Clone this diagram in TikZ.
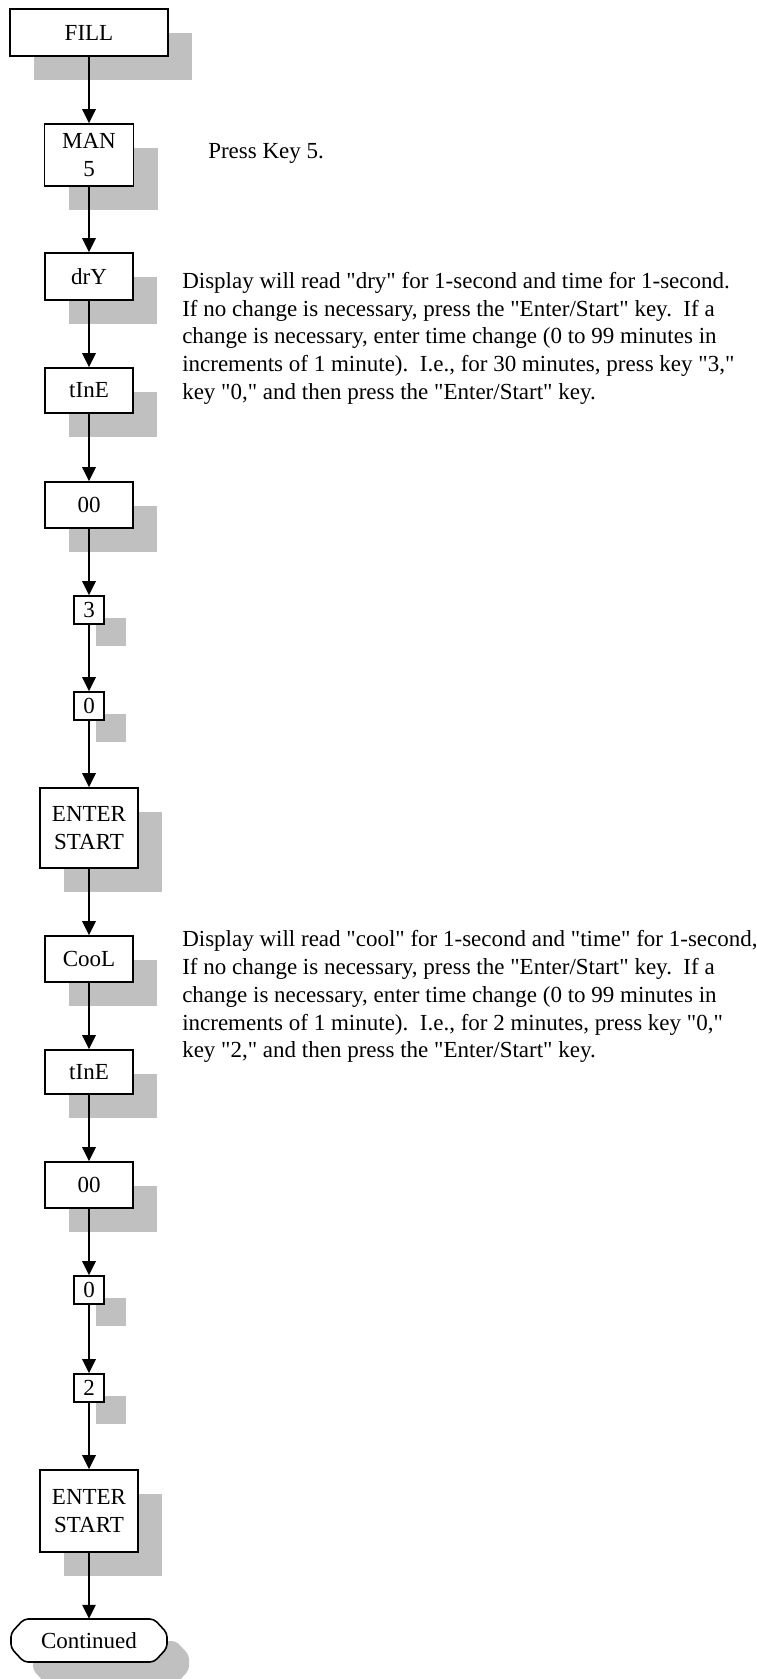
\documentclass[tikz,border=0pt]{standalone}
\usepackage{fontspec}
\setmainfont{Liberation Serif}[Ligatures=TeXOff]
\usetikzlibrary{arrows.meta,shadows}
\definecolor{shgray}{RGB}{192,192,192}
\begin{document}
\frenchspacing
\begin{tikzpicture}[x=0.75pt,y=-0.75pt,
  every node/.style={font=\fontsize{17.25pt}{20.8pt}\selectfont},
  wh/.style 2 args={minimum width=#1*0.75pt, minimum height=#2*0.75pt},
  flowbox/.style={draw, line width=1.2pt, fill=white, inner sep=0pt, align=center,
    font=\fontsize{17.25pt}{21pt}\selectfont},
  bigshadow/.style={drop shadow={shadow xshift=18pt, shadow yshift=-18pt,
    fill=shgray, opacity=1}},
  smallshadow/.style={drop shadow={shadow xshift=16.5pt, shadow yshift=-16.5pt,
    fill=shgray, opacity=1}},
  conn/.style={line width=1.4pt, -{Triangle[length=10.5pt,width=10pt]}},
  note/.style={anchor=base west, align=left, inner sep=0pt},
  termline/.style={line width=1.2pt, rounded corners=3pt},
]
\useasboundingbox (0,0) rectangle (757,1679);

% process boxes
\node[flowbox, bigshadow, wh={158}{47}] (fill) at (89,32.5) {FILL};
\node[flowbox, bigshadow, wh={89}{62}] (man) at (89,155) {MAN\\5};
\node[flowbox, bigshadow, wh={88}{47}] (dry) at (89,276.5) {drY};
\node[flowbox, bigshadow, wh={88}{45}] (timeA) at (89,390.5) {tInE};
\node[flowbox, bigshadow, wh={88}{46}] (zeroesA) at (89,505) {00};
\node[flowbox, smallshadow, wh={30}{28}] (keyThree) at (89,610) {3};
\node[flowbox, smallshadow, wh={30}{28}] (keyZeroA) at (89,706) {0};
\node[flowbox, bigshadow, wh={98}{80}] (enterA) at (89,828) {ENTER\\START};
\node[flowbox, bigshadow, wh={88}{46}] (cool) at (89,959) {CooL};
\node[flowbox, bigshadow, wh={88}{44}] (timeB) at (89,1072) {tInE};
\node[flowbox, bigshadow, wh={88}{46}] (zeroesB) at (89,1185) {00};
\node[flowbox, smallshadow, wh={30}{28}] (keyZeroB) at (89,1290) {0};
\node[flowbox, smallshadow, wh={30}{28}] (keyTwo) at (89,1388) {2};
\node[flowbox, bigshadow, wh={98}{82}] (enterB) at (89,1511) {ENTER\\START};

% terminator with its shadow
\fill[shgray, rounded corners=3pt]
  (46,1641) -- (176,1641) -- (189,1655) -- (189,1670) -- (176,1684)
  -- (46,1684) -- (33,1670) -- (33,1655) -- cycle;
\filldraw[termline, fill=white]
  (24,1619) -- (154,1619) -- (167,1633) -- (167,1648) -- (154,1662)
  -- (24,1662) -- (11,1648) -- (11,1633) -- cycle;
\node[inner sep=0pt, wh={156}{43}] (cont) at (89,1640.5) {Continued};

% connectors
\draw[conn] (fill.south) -- (man.north);
\draw[conn] (man.south) -- (dry.north);
\draw[conn] (dry.south) -- (timeA.north);
\draw[conn] (timeA.south) -- (zeroesA.north);
\draw[conn] (zeroesA.south) -- (keyThree.north);
\draw[conn] (keyThree.south) -- (keyZeroA.north);
\draw[conn] (keyZeroA.south) -- (enterA.north);
\draw[conn] (enterA.south) -- (cool.north);
\draw[conn] (cool.south) -- (timeB.north);
\draw[conn] (timeB.south) -- (zeroesB.north);
\draw[conn] (zeroesB.south) -- (keyZeroB.north);
\draw[conn] (keyZeroB.south) -- (keyTwo.north);
\draw[conn] (keyTwo.south) -- (enterB.north);
\draw[conn] (enterB.south) -- (cont.north);

% instructions (anchored on the baseline of their last line)
\node[note] (press) at (208,158.3) {Press Key 5.};
\node[note] (dryNote) at (182,399.3) {Display will read "dry" for 1-second and time for 1-second.\\
If no change is necessary, press the "Enter/Start" key.\ \ If a\\
change is necessary, enter time change (0 to 99 minutes in\\
increments of 1 minute).\ \ I.e., for 30 minutes, press key "3,"\\
key "0," and then press the "Enter/Start" key.};
\node[note] (coolNote) at (182,1057.8) {Display will read "cool" for 1-second and "time" for 1-second,\\
If no change is necessary, press the "Enter/Start" key.\ \ If a\\
change is necessary, enter time change (0 to 99 minutes in\\
increments of 1 minute).\ \ I.e., for 2 minutes, press key "0,"\\
key "2," and then press the "Enter/Start" key.};
\end{tikzpicture}
\end{document}
